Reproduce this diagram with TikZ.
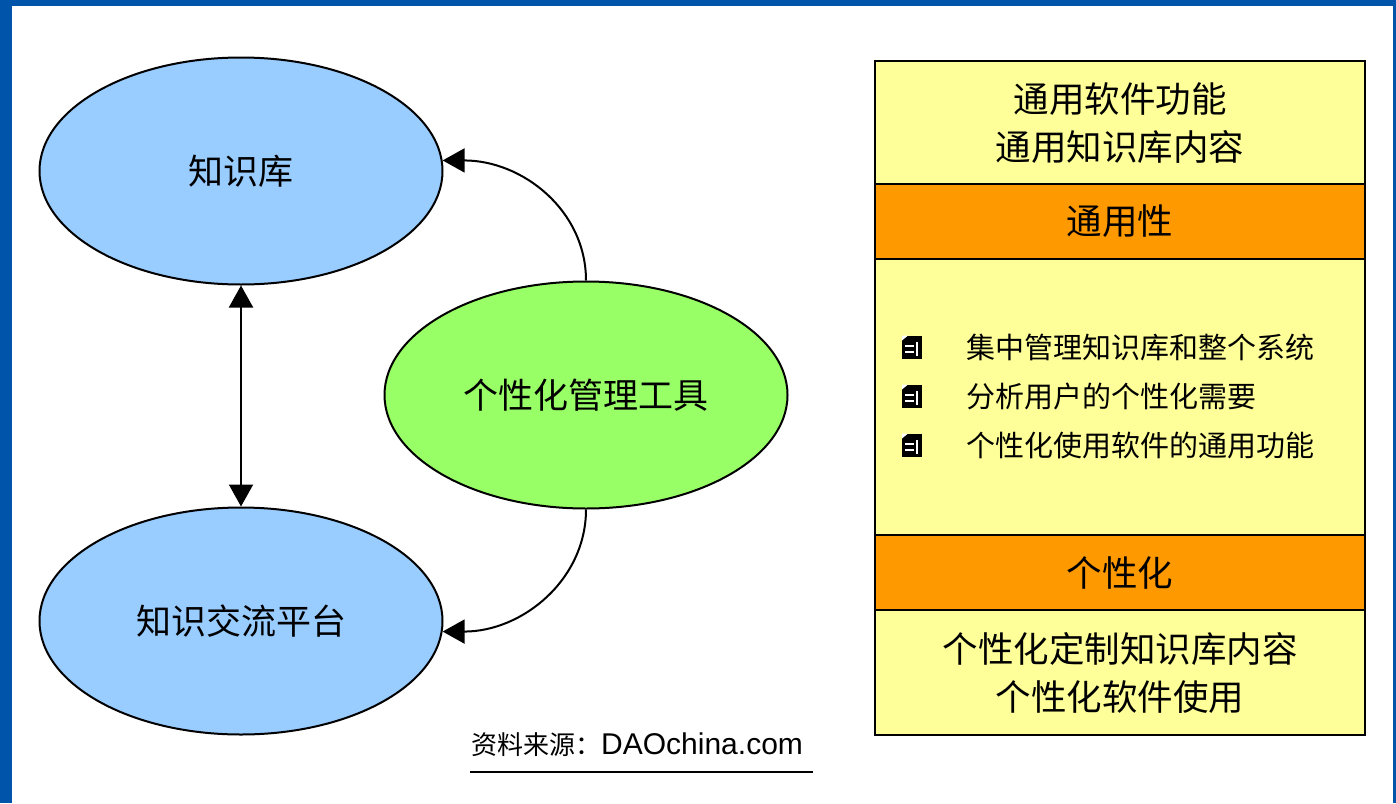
\documentclass[tikz,border=0pt]{standalone}
\usepackage{fontspec}
\setmainfont{Liberation Sans}
\newfontfamily\cjk{Noto Sans CJK SC}
\usetikzlibrary{shapes.geometric,arrows.meta}
\definecolor{bordblue}{HTML}{0055AA}
\definecolor{lblue}{HTML}{99CCFF}
\definecolor{lgreen}{HTML}{99FF66}
\definecolor{lyellow}{HTML}{FFFF99}
\definecolor{lorange}{HTML}{FF9900}
\tikzset{
  oval/.style={ellipse, draw=black, line width=2pt, minimum width=403pt, minimum height=227pt, inner sep=0pt, font=\cjk\fontsize{35}{35}\selectfont},
  sect/.style={draw=black, line width=1.6pt, minimum width=490pt, inner sep=0pt, align=center, font=\cjk\fontsize{35.5}{48}\selectfont},
  item/.style={anchor=west, inner sep=0pt, font=\cjk\fontsize{29}{29}\selectfont},
  conn/.style={line width=2pt, draw=black},
  tip/.style={-{Triangle[length=22pt,width=24pt]}},
  icon/.style={fill=black, minimum width=20pt, minimum height=23pt, inner sep=0pt,
    path picture={
      \fill[white] (path picture bounding box.north west) -- ++(6pt,0) -- ++(-6pt,-5pt) -- cycle;
      \fill[white] ([xshift=3pt,yshift=-9pt]path picture bounding box.north west) rectangle ++(9pt,-2.5pt);
      \fill[white] ([xshift=3pt,yshift=-15pt]path picture bounding box.north west) rectangle ++(9pt,-2.5pt);
      \fill[white] ([xshift=14pt,yshift=-6pt]path picture bounding box.north west) rectangle ++(2pt,-14pt);
    }},
}
\begin{document}
\begin{tikzpicture}[x=1pt,y=-1pt]
\useasboundingbox (0,0) rectangle (1396,803);
\fill[white] (0,0) rectangle (1396,803);
\fill[bordblue] (0,0) rectangle (1396,6);
\fill[bordblue] (0,0) rectangle (12,803);
\fill[bordblue] (1393,0) rectangle (1396,803);

% ellipses
\node[oval, fill=lblue] (kb) at (241,171) {知识库};
\node[oval, fill=lblue] (kx) at (241,621) {知识交流平台};
\node[oval, fill=lgreen] (g) at (586,395) {个性化管理工具};

% connectors
\draw[conn, {Triangle[length=22pt,width=24pt]}-{Triangle[length=22pt,width=24pt]}] (kb.south) -- (kx.north);
\draw[conn, tip] (g.north) .. controls +(0,-70) and +(80,0) .. (kb.3);
\draw[conn, tip] (g.south) .. controls +(0,70) and +(80,0) .. (kx.-3);

% right box
\node[sect, fill=lyellow, minimum height=124pt] (s1) at (1120,123) {通用软件功能\\通用知识库内容};
\node[sect, fill=lorange, minimum height=75pt] (s2) at (1120,221.5) {通用性};
\node[sect, fill=lyellow, minimum height=276pt] (s3) at (1120,397) {};
\node[sect, fill=lorange, minimum height=75pt] (s4) at (1120,572.5) {个性化};
\node[sect, fill=lyellow, minimum height=125pt] (s5) at (1120,672.5) {个性化定制知识库内容\\个性化软件使用};

% bullets
\node[icon] (i1) at (912,347) {};
\node[icon] (i2) at (912,396) {};
\node[icon] (i3) at (912,445) {};
\node[item] (t1) at (966,347) {集中管理知识库和整个系统};
\node[item] (t2) at (966,396) {分析用户的个性化需要};
\node[item] (t3) at (966,445) {个性化使用软件的通用功能};

% source
\node[anchor=west, inner sep=0pt] (src) at (471,745) {{\cjk\fontsize{26}{26}\selectfont 资料来源：}{\fontsize{30}{30}\selectfont DAOchina.com}};
\coordinate (u1) at (470,772);
\coordinate (u2) at (813,772);
\draw[line width=2pt] (u1) -- (u2);
\end{tikzpicture}
\end{document}
